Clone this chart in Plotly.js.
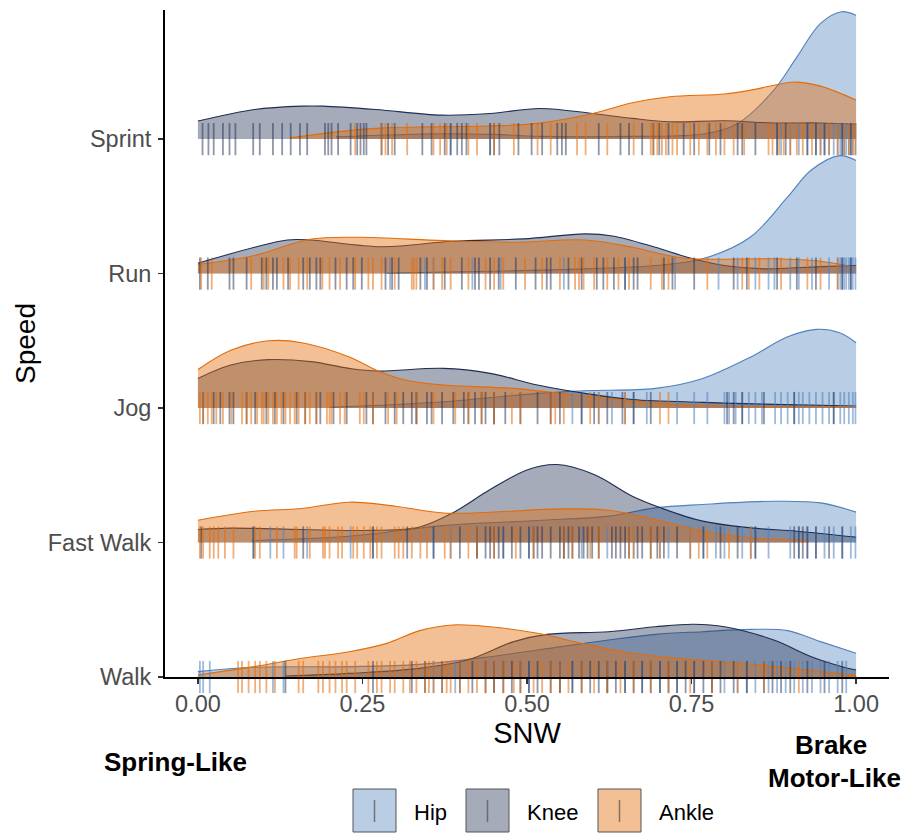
<!DOCTYPE html>
<html><head><meta charset="utf-8">
<script src="https://cdn.plot.ly/plotly-3.0.1.min.js"></script>
<style>html,body{margin:0;padding:0;background:#fff}</style>
</head><body><div id="chart" style="width:902px;height:834px"></div>
<script>
const speeds = ["Walk","Fast Walk","Jog","Run","Sprint"];
const joints = ["Hip","Knee","Ankle"];
const xTickVals = [0, 0.25, 0.5, 0.75, 1];
const xTickText = ["0.00","0.25","0.50","0.75","1.00"];

// ---- density curves (heights in ridge units above each speed's baseline) ----
const sprintHipX = [0.21,0.37,0.45,0.52,0.66,0.77,0.82,0.875,0.91,0.946,0.978,1.0];
const sprintHipH = [0.017,0.04,0.035,0.02,0.02,0.04,0.116,0.364,0.61,0.86,0.947,0.92];
const sprintKneeX = [0,0.086,0.158,0.19,0.27,0.37,0.444,0.52,0.6,0.66,0.717,0.8,0.875,0.946,1.0];
const sprintKneeH = [0.134,0.22,0.245,0.245,0.22,0.178,0.19,0.228,0.19,0.154,0.129,0.136,0.12,0.12,0.11];
const sprintAnkleX = [0.14,0.27,0.44,0.516,0.6,0.66,0.717,0.8,0.84,0.889,0.91,0.946,1.0];
const sprintAnkleH = [0.01,0.08,0.097,0.117,0.19,0.27,0.315,0.335,0.364,0.414,0.424,0.394,0.29];

const runHipX = [0.287,0.444,0.588,0.695,0.767,0.839,0.896,0.932,0.975,1.0];
const runHipH = [0.003,0.017,0.035,0.06,0.11,0.27,0.57,0.77,0.877,0.84];
const runKneeX = [0,0.086,0.136,0.17,0.28,0.387,0.495,0.588,0.63,0.695,0.745,0.8,0.86,0.946,1.0];
const runKneeH = [0.077,0.196,0.25,0.25,0.2,0.24,0.258,0.295,0.28,0.196,0.12,0.06,0.035,0.052,0.06];
const runAnkleX = [0,0.086,0.17,0.244,0.373,0.48,0.588,0.66,0.73,0.774,0.875,0.946,1.0];
const runAnkleH = [0.067,0.134,0.255,0.27,0.245,0.233,0.25,0.196,0.12,0.107,0.11,0.092,0.047];

const jogHipX = [0.2,0.373,0.516,0.588,0.695,0.767,0.84,0.896,0.94,0.975,1.0];
const jogHipH = [0.005,0.047,0.109,0.129,0.146,0.22,0.38,0.53,0.585,0.56,0.486];
const jogKneeX = [0,0.05,0.107,0.172,0.23,0.272,0.373,0.444,0.516,0.588,0.66,0.767,0.875,1.0];
const jogKneeH = [0.22,0.32,0.36,0.345,0.295,0.275,0.295,0.258,0.171,0.109,0.064,0.042,0.027,0.015];
const jogAnkleX = [0,0.05,0.107,0.158,0.23,0.272,0.315,0.373,0.48,0.55,0.62,0.73,0.8,1.0];
const jogAnkleH = [0.287,0.43,0.5,0.486,0.38,0.28,0.208,0.171,0.146,0.109,0.072,0.027,0.015,0.01];

const fastWalkHipX = [0.082,0.23,0.373,0.516,0.624,0.695,0.767,0.875,0.946,1.0];
const fastWalkHipH = [0.015,0.047,0.126,0.164,0.196,0.258,0.283,0.307,0.295,0.226];
const fastWalkKneeX = [0,0.05,0.158,0.265,0.337,0.387,0.444,0.502,0.545,0.602,0.66,0.703,0.767,0.84,0.91,1.0];
const fastWalkKneeH = [0.097,0.107,0.097,0.09,0.116,0.22,0.394,0.543,0.58,0.506,0.344,0.258,0.159,0.109,0.084,0.04];
const fastWalkAnkleX = [0,0.086,0.158,0.23,0.3,0.373,0.444,0.55,0.624,0.695,0.767,0.84,0.928];
const fastWalkAnkleH = [0.166,0.233,0.253,0.3,0.27,0.22,0.225,0.25,0.24,0.171,0.084,0.035,0.015];

const walkHipX = [0,0.086,0.23,0.337,0.444,0.552,0.624,0.695,0.767,0.84,0.896,0.946,1.0];
const walkHipH = [0.04,0.072,0.077,0.094,0.151,0.226,0.275,0.317,0.337,0.354,0.345,0.263,0.176];
const walkKneeX = [0.133,0.23,0.337,0.409,0.48,0.53,0.624,0.695,0.753,0.8,0.875,0.932,0.975,1.0];
const walkKneeH = [0.007,0.027,0.064,0.126,0.263,0.317,0.337,0.374,0.392,0.374,0.275,0.151,0.082,0.052];
const walkAnkleX = [0,0.086,0.158,0.23,0.287,0.337,0.387,0.444,0.516,0.588,0.66,0.73,0.84,0.946,1.0];
const walkAnkleH = [0.015,0.077,0.139,0.188,0.25,0.345,0.387,0.374,0.325,0.245,0.176,0.139,0.097,0.04,0.01];

// ---- rug observations (SNW values) ----
const sprintHipRug = [0.384,0.444,0.88,0.886,0.9,0.913,0.926,0.939,0.946,0.952,0.959,0.966,0.972,0.976,0.979,0.982,0.985,0.989,0.992,0.995,0.999];
const sprintKneeRug = [0.007,0.016,0.024,0.038,0.048,0.057,0.084,0.094,0.114,0.128,0.141,0.155,0.166,0.193,0.198,0.203,0.213,0.232,0.242,0.247,0.252,0.256,0.279,0.289,0.299,0.341,0.355,0.375,0.384,0.394,0.401,0.408,0.444,0.45,0.458,0.487,0.507,0.523,0.546,0.553,0.559,0.609,0.642,0.655,0.675,0.692,0.701,0.715,0.738,0.754,0.777,0.794,0.82,0.827,0.847,0.88,0.893,0.926,0.939,0.952,0.979,0.992];
const sprintAnkleRug = [0.239,0.279,0.285,0.295,0.318,0.358,0.368,0.378,0.411,0.424,0.45,0.48,0.516,0.536,0.576,0.589,0.622,0.662,0.688,0.692,0.698,0.705,0.711,0.721,0.728,0.748,0.761,0.774,0.787,0.8,0.814,0.83,0.867,0.873,0.883,0.89,0.9,0.91,0.919,0.933,0.946,0.959,0.972,0.982,0.989,0.995,0.999];

const runHipRug = [0.292,0.345,0.358,0.417,0.46,0.556,0.649,0.725,0.791,0.82,0.847,0.867,0.876,0.9,0.913,0.933,0.959,0.972,0.976,0.979,0.982,0.985,0.989,0.992,0.995,0.999];
const runKneeRug = [0.003,0.015,0.048,0.054,0.074,0.097,0.104,0.114,0.12,0.137,0.16,0.17,0.18,0.186,0.209,0.226,0.236,0.249,0.285,0.295,0.305,0.338,0.348,0.375,0.401,0.421,0.427,0.444,0.457,0.483,0.513,0.53,0.536,0.563,0.583,0.606,0.616,0.632,0.649,0.662,0.668,0.708,0.721,0.754,0.814,0.834,0.88,0.91,0.939,0.979,0.992];
const runAnkleRug = [0.005,0.021,0.081,0.1,0.107,0.13,0.14,0.153,0.166,0.189,0.2,0.216,0.239,0.259,0.266,0.279,0.299,0.325,0.328,0.332,0.358,0.371,0.384,0.411,0.437,0.45,0.464,0.497,0.523,0.55,0.573,0.579,0.586,0.602,0.622,0.639,0.655,0.688,0.705,0.715,0.774,0.827,0.837,0.853,0.886,0.926,0.946,0.972];

const jogHipRug = [0.332,0.45,0.569,0.583,0.609,0.629,0.649,0.662,0.682,0.728,0.754,0.774,0.8,0.807,0.817,0.827,0.837,0.847,0.857,0.877,0.886,0.896,0.906,0.913,0.919,0.929,0.939,0.949,0.959,0.966,0.976,0.982,0.989,0.995,0.999];
const jogKneeRug = [0.008,0.024,0.034,0.048,0.054,0.074,0.087,0.104,0.117,0.13,0.15,0.163,0.18,0.186,0.206,0.226,0.256,0.266,0.285,0.299,0.312,0.325,0.332,0.348,0.355,0.371,0.388,0.404,0.411,0.421,0.431,0.437,0.45,0.467,0.49,0.516,0.536,0.55,0.583,0.602,0.622,0.645,0.662,0.688,0.804,0.814,0.827,0.86,0.906,0.966];
const jogAnkleRug = [0.003,0.008,0.015,0.021,0.028,0.038,0.051,0.067,0.074,0.081,0.09,0.097,0.1,0.107,0.114,0.12,0.127,0.133,0.14,0.147,0.153,0.163,0.17,0.18,0.196,0.2,0.203,0.216,0.223,0.246,0.252,0.266,0.289,0.302,0.332,0.358,0.391,0.411,0.431,0.45,0.477,0.49,0.536,0.543,0.556,0.596,0.609,0.649,0.702,0.715];

const fastWalkHipRug = [0.085,0.11,0.13,0.166,0.232,0.266,0.358,0.384,0.424,0.464,0.503,0.556,0.583,0.622,0.662,0.702,0.715,0.748,0.768,0.787,0.8,0.827,0.84,0.847,0.867,0.9,0.913,0.926,0.939,0.952,0.966,0.979,0.992,0.999];
const fastWalkKneeRug = [0.005,0.084,0.16,0.266,0.318,0.358,0.398,0.424,0.437,0.444,0.45,0.457,0.464,0.477,0.49,0.503,0.51,0.516,0.523,0.536,0.55,0.556,0.563,0.569,0.579,0.586,0.592,0.599,0.609,0.629,0.635,0.642,0.649,0.655,0.668,0.675,0.688,0.698,0.708,0.728,0.768,0.794,0.82,0.847,0.906,0.913,0.919,0.926,0.939,0.959,0.979];
const fastWalkAnkleRug = [0.003,0.008,0.018,0.024,0.031,0.041,0.054,0.087,0.094,0.12,0.147,0.15,0.17,0.19,0.193,0.2,0.213,0.219,0.236,0.242,0.252,0.262,0.272,0.279,0.299,0.305,0.312,0.325,0.338,0.348,0.375,0.384,0.411,0.424,0.45,0.483,0.51,0.556,0.569,0.596,0.609,0.655,0.662,0.688,0.702,0.748,0.761,0.774,0.807,0.84];

const walkHipRug = [0.003,0.008,0.018,0.114,0.13,0.358,0.391,0.45,0.503,0.55,0.569,0.622,0.649,0.675,0.702,0.728,0.754,0.781,0.8,0.82,0.834,0.847,0.867,0.88,0.893,0.906,0.919,0.933,0.946,0.959,0.972,0.985];
const walkKneeRug = [0.133,0.266,0.325,0.345,0.371,0.398,0.417,0.437,0.45,0.464,0.477,0.49,0.503,0.516,0.536,0.55,0.569,0.583,0.596,0.609,0.622,0.635,0.649,0.662,0.675,0.688,0.702,0.715,0.728,0.741,0.754,0.768,0.781,0.794,0.814,0.834,0.86,0.873,0.886,0.9,0.926,0.952,0.979];
const walkAnkleRug = [0.061,0.067,0.077,0.087,0.094,0.104,0.117,0.153,0.16,0.183,0.19,0.2,0.209,0.219,0.226,0.239,0.259,0.272,0.279,0.292,0.299,0.312,0.322,0.332,0.345,0.351,0.358,0.371,0.378,0.384,0.398,0.411,0.424,0.437,0.45,0.464,0.48,0.49,0.51,0.523,0.536,0.55,0.563,0.583,0.602,0.622,0.642,0.662,0.688,0.715,0.748,0.781,0.82,0.86,0.913];

// ---- assemble ----
const groups = {
  "Sprint":    {Hip:[sprintHipX,sprintHipH,sprintHipRug], Knee:[sprintKneeX,sprintKneeH,sprintKneeRug], Ankle:[sprintAnkleX,sprintAnkleH,sprintAnkleRug]},
  "Run":       {Hip:[runHipX,runHipH,runHipRug], Knee:[runKneeX,runKneeH,runKneeRug], Ankle:[runAnkleX,runAnkleH,runAnkleRug]},
  "Jog":       {Hip:[jogHipX,jogHipH,jogHipRug], Knee:[jogKneeX,jogKneeH,jogKneeRug], Ankle:[jogAnkleX,jogAnkleH,jogAnkleRug]},
  "Fast Walk": {Hip:[fastWalkHipX,fastWalkHipH,fastWalkHipRug], Knee:[fastWalkKneeX,fastWalkKneeH,fastWalkKneeRug], Ankle:[fastWalkAnkleX,fastWalkAnkleH,fastWalkAnkleRug]},
  "Walk":      {Hip:[walkHipX,walkHipH,walkHipRug], Knee:[walkKneeX,walkKneeH,walkKneeRug], Ankle:[walkAnkleX,walkAnkleH,walkAnkleRug]}
};
const style = {
  Hip:   {line:'#4F81BD', fill:'rgba(79,129,189,0.4)',  rug:'rgba(79,129,189,0.55)'},
  Knee:  {line:'#1F2D50', fill:'rgba(31,45,80,0.4)',    rug:'rgba(31,45,80,0.5)'},
  Ankle: {line:'#E36C09', fill:'rgba(227,108,9,0.43)',  rug:'rgba(227,108,9,0.55)'}
};

const traces = [];
const drawOrder = speeds.slice().reverse(); // top ridge first, lower ridges in front
drawOrder.forEach(sp => {
  const base = speeds.indexOf(sp) + 1;
  joints.forEach(j => {
    const [xs, hs] = groups[sp][j];
    traces.push({type:'scatter', mode:'lines', x:xs, y:xs.map(() => base),
      line:{width:0, color:'rgba(0,0,0,0)'}, hoverinfo:'skip', showlegend:false});
    traces.push({type:'scatter', mode:'lines', x:xs, y:hs.map(h => base + h),
      fill:'tonexty', fillcolor:style[j].fill,
      line:{color:style[j].line, width:1.1, shape:'spline', smoothing:1},
      name:j, showlegend:false});
  });
  joints.forEach(j => {
    const rug = groups[sp][j][2];
    traces.push({type:'scatter', mode:'markers', x:rug, y:rug.map(() => base),
      marker:{symbol:'line-ns-open', size:23, color:style[j].rug, line:{width:1.8}},
      cliponaxis:false, hoverinfo:'skip', showlegend:false});
  });
});

// plot area geometry in px for paper-coordinate helpers
const L = 165, R = 13, T = 10, B = 157, W = 902, H = 834;
const pw = W - L - R, ph = H - T - B;
const px = x => (x - L) / pw;
const py = y => (H - B - y) / ph;

const shapes = [];
const annotations = [
  {text:'<b>Spring-Like</b>', x:px(175), y:py(762), xref:'paper', yref:'paper', showarrow:false, xanchor:'center', yanchor:'middle', font:{size:26, color:'#000'}},
  {text:'<b>Brake</b>', x:px(831), y:py(745), xref:'paper', yref:'paper', showarrow:false, xanchor:'center', yanchor:'middle', font:{size:26, color:'#000'}},
  {text:'<b>Motor-Like</b>', x:px(834), y:py(778), xref:'paper', yref:'paper', showarrow:false, xanchor:'center', yanchor:'middle', font:{size:26, color:'#000'}}
];
// legend keys
const keyLeft = [353, 466, 598];
joints.forEach((j, i) => {
  const x0 = keyLeft[i], x1 = x0 + 43, y0 = 789, y1 = 832;
  shapes.push({type:'rect', xref:'paper', yref:'paper', x0:px(x0), x1:px(x1), y0:py(y1), y1:py(y0),
    fillcolor:style[j].fill, line:{color:'#555555', width:1}});
  shapes.push({type:'line', xref:'paper', yref:'paper', x0:px((x0+x1)/2), x1:px((x0+x1)/2), y0:py(822), y1:py(800),
    line:{color:'rgba(80,80,80,0.7)', width:1.5}});
  annotations.push({text:j, x:px(x1 + 16), y:py(812), xref:'paper', yref:'paper', showarrow:false,
    xanchor:'left', yanchor:'middle', font:{size:22, color:'#000'}});
});

const layout = {
  width:W, height:H,
  margin:{l:L, r:R, t:T, b:B},
  paper_bgcolor:'#fff', plot_bgcolor:'#fff',
  font:{family:'Liberation Sans, Arial, sans-serif'},
  showlegend:false,
  xaxis:{range:[-0.05, 1.05], tickvals:xTickVals, ticktext:xTickText,
    showgrid:false, zeroline:false, showline:true, linecolor:'#000', linewidth:2,
    ticks:'outside', ticklen:5, tickwidth:1.5, tickcolor:'#333',
    tickfont:{size:23.5, color:'#4D4D4D'},
    title:{text:'SNW', font:{size:29, color:'#000'}, standoff:6}},
  yaxis:{range:[1, 5.96], tickvals:[1,2,3,4,5], ticktext:speeds,
    showgrid:false, zeroline:false, showline:true, linecolor:'#000', linewidth:2,
    ticks:'outside', ticklen:5, tickwidth:1.5, tickcolor:'#333', ticklabelstandoff:2,
    tickfont:{size:23.5, color:'#4D4D4D'},
    title:{text:'Speed', font:{size:28, color:'#000'}, standoff:4}},
  shapes:shapes,
  annotations:annotations
};

Plotly.newPlot('chart', traces, layout, {displayModeBar:false, staticPlot:true});
</script>
</body></html>
